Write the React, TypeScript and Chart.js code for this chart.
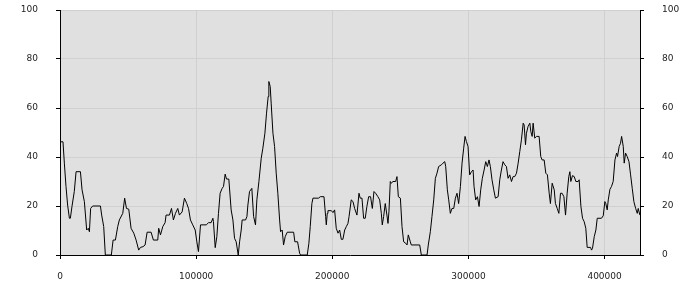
import React, { useEffect, useRef } from "react";
import { Chart, registerables } from "chart.js";

Chart.register(...registerables);

const xValues: number[] = [
  0, 2200, 3200, 4400, 5600, 6900, 7600, 8800, 10500, 11800, 15000, 16200, 17900, 19600, 20800, 21600, 22500, 24000,
  29700, 30600, 32100, 33300, 37700, 39000, 40700, 42400, 43600, 46100, 47500, 48800, 50500, 52200, 54200, 55900,
  57800, 59100, 61000, 62500, 64000, 66900, 68600, 71800, 72500, 73800, 75500, 77200, 77900, 80400, 81900, 83300,
  84800, 86500, 87700, 89700, 91400, 93100, 94400, 95800, 97500, 99300, 100500, 101700, 103200, 107400, 109100,
  111000, 112300, 112700, 114000, 115200, 116400, 117600, 119100, 120100, 121300, 122300, 124000, 125700, 127000,
  128200, 129400, 130900, 131900, 133100, 133800, 136300, 137300, 138000, 139200, 140900, 142200, 143600, 144600,
  146100, 147800, 149000, 150500, 151700, 152900, 153400, 154400, 155100, 156400, 157600, 158800, 160000, 161300,
  162000, 163200, 164200, 165400, 166900, 171600, 172500, 174500, 176000, 176700, 181600, 182800, 183800, 185000,
  185800, 189900, 191200, 193900, 195100, 195600, 196300, 196800, 199300, 200500, 201700, 202900, 204200, 205400,
  206600, 207800, 209100, 210300, 211500, 212300, 213900, 215200, 216400, 218100, 219600, 220500, 221800, 223000,
  224200, 225400, 226700, 228100, 229400, 230600, 231800, 233500, 234800, 236000, 236700, 237700, 238900, 240100,
  240900, 241600, 242600, 243300, 244600, 246500, 247500, 248500, 250000, 251200, 252400, 253900, 254900, 255800,
  257300, 258000, 264200, 265400, 269600, 270500, 272000, 273200, 274500, 275700, 276900, 278100, 280100, 281300,
  282600, 283300, 284500, 285500, 286700, 287900, 289200, 290400, 291600, 292800, 294100, 295300, 296500, 297500,
  298500, 299700, 300900, 302200, 303400, 304100, 305300, 306600, 307800, 309000, 310200, 311500, 312700, 313900,
  315100, 316100, 317300, 318600, 319800, 321800, 323000, 324200, 325400, 326700, 327900, 329100, 330300, 331600,
  332800, 334000, 335300, 336500, 337700, 338900, 340200, 340900, 341900, 342600, 343800, 345100, 345800, 346800,
  347500, 348700, 350000, 351900, 353100, 354100, 355600, 356800, 358000, 359300, 360200, 361500, 363000, 363900,
  365200, 366400, 367600, 368800, 370100, 371300, 372500, 373700, 374500, 375200, 376400, 377700, 378900, 380600,
  381300, 382600, 383800, 385000, 386200, 387200, 389700, 390400, 391100, 392400, 393600, 394600, 397700, 399000,
  400200, 400900, 401900, 402700, 403900, 405100, 406300, 407600, 408800, 409500, 410700, 411700, 412500, 413700,
  414400, 415400, 416600, 417900, 419100, 420300, 421500, 422800, 424000, 424700, 425900,
];

const yValues: number[] = [
  46.2, 46.2, 37.5, 28, 20.4, 15, 15, 19.8, 25.9, 34, 34, 26.6, 21.8, 10.2, 10.9, 9.5, 19, 20,
  20, 16.3, 11.6, 0, 0, 6.1, 6.1, 11.6, 14.3, 17, 23.2, 19, 18.7, 10.9, 8.9, 6.1,
  2, 3.1, 3.4, 4.1, 9.3, 9.3, 6.1, 6.1, 10.9, 8.2, 11.6, 13.2, 16.3, 16.3, 19, 14.3,
  17, 19, 16.3, 17.6, 23.2, 21, 19, 14.3, 12.3, 10.2, 5.4, 1.4, 12.3, 12.3, 13.2,
  13.2, 15, 13.6, 3, 7.5, 17, 25.2, 27.2, 28, 33, 31, 31, 18.4, 14.3,
  6.8, 5.4, 0, 5.4, 10.2, 14.3, 14.3, 15.7, 20.4, 25.9, 27.2, 15.7, 12.3, 22.5,
  30, 39.5, 43.6, 49.7, 57.9, 64.7, 70.8, 68.8, 62, 49.7, 44.3, 33.4, 25.2, 14.3,
  9.5, 10.2, 4.1, 7.5, 9.3, 9.3, 5.4, 5.4, 0.7, 0, 0, 4.8, 11.6, 21,
  23.2, 23.2, 23.8, 23.8, 15.7, 12.3, 17, 18.1, 18.1, 17.3, 18.4, 10.9, 8.9, 10.2,
  6.4, 6.4, 10.2, 11.6, 12.9, 15.7, 22.5, 21.8, 19, 16.3, 25.2, 23.2, 23.2, 15,
  15, 19.8, 23.8, 23.8, 19, 25.9, 25.2, 23.8, 22.5, 17, 12.3, 15.7, 21, 16.3,
  12.9, 17.7, 30, 29.3, 30, 30, 32, 23.8, 23.2, 11.6, 5.4, 4.8, 4.1, 8.2,
  5.4, 4.1, 4.1, 0, 0, 4.1, 9.5, 15.7, 22.5, 31.3, 33.4, 36.1, 36.8, 37.5,
  38.1, 36.1, 26.6, 22.5, 17, 19, 19, 23.2, 25.2, 21, 28, 37.5, 43.6, 48.4,
  46.3, 44.3, 32.7, 34, 34.7, 28, 22.5, 23.8, 19.8, 26.6, 31.3, 34.7, 38.1, 36.1,
  38.8, 36.1, 30.7, 26.6, 23.2, 23.8, 30.7, 34.7, 38.1, 36.8, 36.1, 31.3, 32.7, 30,
  32, 32, 33.4, 37.5, 42.2, 47, 53.8, 53.1, 45, 49.7, 52.5, 53.8, 50.4, 48.4,
  53.8, 47.7, 48.4, 48.4, 40.2, 38.8, 38.8, 33.4, 32.7, 25.2, 21, 29.3, 26.6, 21,
  19, 17, 25.2, 25.2, 23.8, 16.3, 25.2, 32, 34, 30, 32.4, 32, 30, 30,
  30.7, 19.8, 15, 13.6, 10.9, 3.1, 3.1, 2, 2.7, 7.5, 10.2, 15, 15, 16,
  21.8, 21, 18.4, 22.5, 26.8, 28, 30, 38.8, 41.6, 40.2, 44.3, 45.6, 48.4, 44.3,
  37.5, 41.6, 40.2, 38.1, 32.7, 27.2, 21.8, 19, 17, 19, 16.3,
];

const xTicks: number[] = [0, 100000, 200000, 300000, 400000];
const yTicks: number[] = [0, 20, 40, 60, 80, 100];
const xMax = 426000;

const plotBg = {
  id: "plotBg",
  beforeDraw(chart: any) {
    const { ctx, chartArea } = chart;
    ctx.save();
    ctx.fillStyle = "#e0e0e0";
    ctx.fillRect(chartArea.left, chartArea.top, chartArea.right - chartArea.left, chartArea.bottom - chartArea.top);
    ctx.restore();
  },
};

export default function App() {
  const ref = useRef<HTMLCanvasElement | null>(null);
  useEffect(() => {
    document.body.style.margin = "0";
    const font = { family: "DejaVu Sans", size: 9 };
    const tickColor = "#222";
    const fitY = (s: any) => {
      s.width = 60;
      s.paddingTop = 0;
      s.paddingBottom = 0;
    };
    const chart = new Chart(ref.current!, {
      type: "line",
      data: {
        datasets: [
          {
            data: xValues.map((x, i) => ({ x, y: yValues[i] })),
            borderColor: "#000",
            borderWidth: 1,
            pointRadius: 0,
            tension: 0,
            fill: false,
            yAxisID: "y",
          },
        ],
      },
      options: {
        animation: false,
        responsive: false,
        maintainAspectRatio: false,
        layout: { padding: { top: 10, left: 0, right: 0, bottom: 0 } },
        plugins: { legend: { display: false }, tooltip: { enabled: false } },
        scales: {
          x: {
            type: "linear",
            min: 0,
            max: xMax,
            afterBuildTicks: (s: any) => {
              s.ticks = xTicks.map((v) => ({ value: v }));
            },
            afterFit: (s: any) => {
              s.height = 45;
              s.paddingLeft = 0;
              s.paddingRight = 0;
            },
            ticks: { color: tickColor, font, padding: 12, maxRotation: 0, callback: (v: any) => String(v) },
            grid: { color: "#d0d0d0", tickColor: "#000", tickLength: 4 },
            border: { color: "#000", width: 1 },
          },
          y: {
            type: "linear",
            position: "left",
            min: 0,
            max: 100,
            afterBuildTicks: (s: any) => {
              s.ticks = yTicks.map((v) => ({ value: v }));
            },
            afterFit: fitY,
            ticks: { color: tickColor, font, padding: 18 },
            grid: { color: "#d0d0d0", tickColor: "#000", tickLength: 4 },
            border: { color: "#000", width: 1 },
          },
          y2: {
            type: "linear",
            position: "right",
            min: 0,
            max: 100,
            afterBuildTicks: (s: any) => {
              s.ticks = yTicks.map((v) => ({ value: v }));
            },
            afterFit: fitY,
            ticks: { color: tickColor, font, padding: 18 },
            grid: { drawOnChartArea: false, tickColor: "#000", tickLength: 4 },
            border: { color: "#000", width: 1 },
          },
        },
      },
      plugins: [plotBg],
    });
    return () => chart.destroy();
  }, []);
  return (
    <div style={{ width: 700, height: 300 }}>
      <canvas ref={ref} width={700} height={300} style={{ width: 700, height: 300, display: "block" }} />
    </div>
  );
}
